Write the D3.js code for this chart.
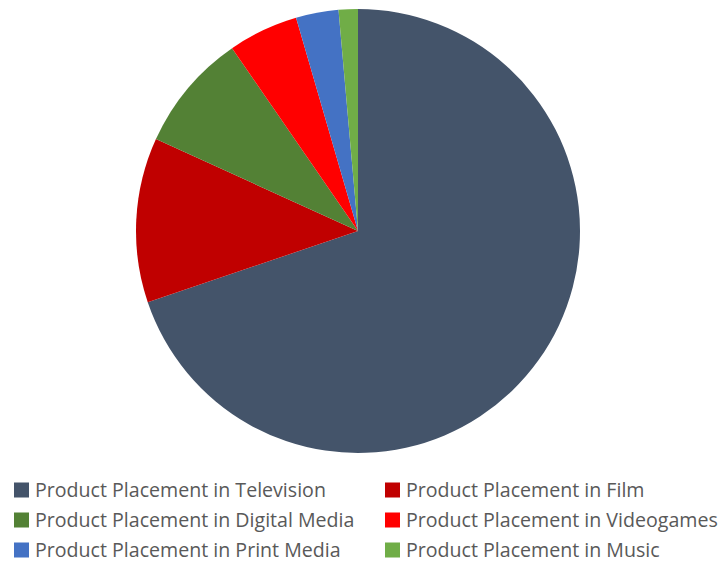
<!DOCTYPE html>
<html>
<head>
<meta charset="utf-8">
<script src="https://cdn.jsdelivr.net/npm/d3@7"></script>
<style>
  html, body { margin: 0; padding: 0; background: #fff; }
  svg { display: block; }
  .legend text { font-family: "Open Sans", "Liberation Sans", sans-serif; fill: #595959; }
</style>
</head>
<body>
<svg id="chart" width="726" height="565"></svg>
<script>
// Share of product placement spending by medium (percent)
const categories = [
  "Product Placement in Television",
  "Product Placement in Film",
  "Product Placement in Digital Media",
  "Product Placement in Videogames",
  "Product Placement in Print Media",
  "Product Placement in Music"
];
const shares = [69.8, 12.0, 8.6, 5.1, 3.1, 1.4];
const colors = ["#44546A", "#C00000", "#538135", "#FF0000", "#4472C4", "#70AD47"];

const data = categories.map((name, i) => ({ name, value: shares[i] }));

const svg = d3.select("#chart");
const color = d3.scaleOrdinal().domain(categories).range(colors);

// Pie, clockwise from 12 o'clock in data order
const pie = d3.pie().value(d => d.value).sort(null);
const arc = d3.arc().innerRadius(0).outerRadius(222);

svg.append("g")
  .attr("transform", "translate(358,231)")
  .selectAll("path")
  .data(pie(data))
  .join("path")
  .attr("d", arc)
  .attr("fill", d => color(d.data.name));

// Two-column legend below the pie
const colX = [14, 385];
const rowY = [490, 520, 550];
const legend = svg.append("g").attr("class", "legend");
const items = legend.selectAll("g")
  .data(data)
  .join("g")
  .attr("transform", (d, i) => `translate(${colX[i % 2]},${rowY[Math.floor(i / 2)]})`);

items.append("rect")
  .attr("x", 0).attr("y", -7.5)
  .attr("width", 15).attr("height", 15)
  .attr("fill", d => color(d.name));

items.append("text")
  .attr("x", 21)
  .attr("y", 0)
  .attr("dy", "0.36em")
  .attr("font-size", 19.6)
  .text(d => d.name);
</script>
</body>
</html>
